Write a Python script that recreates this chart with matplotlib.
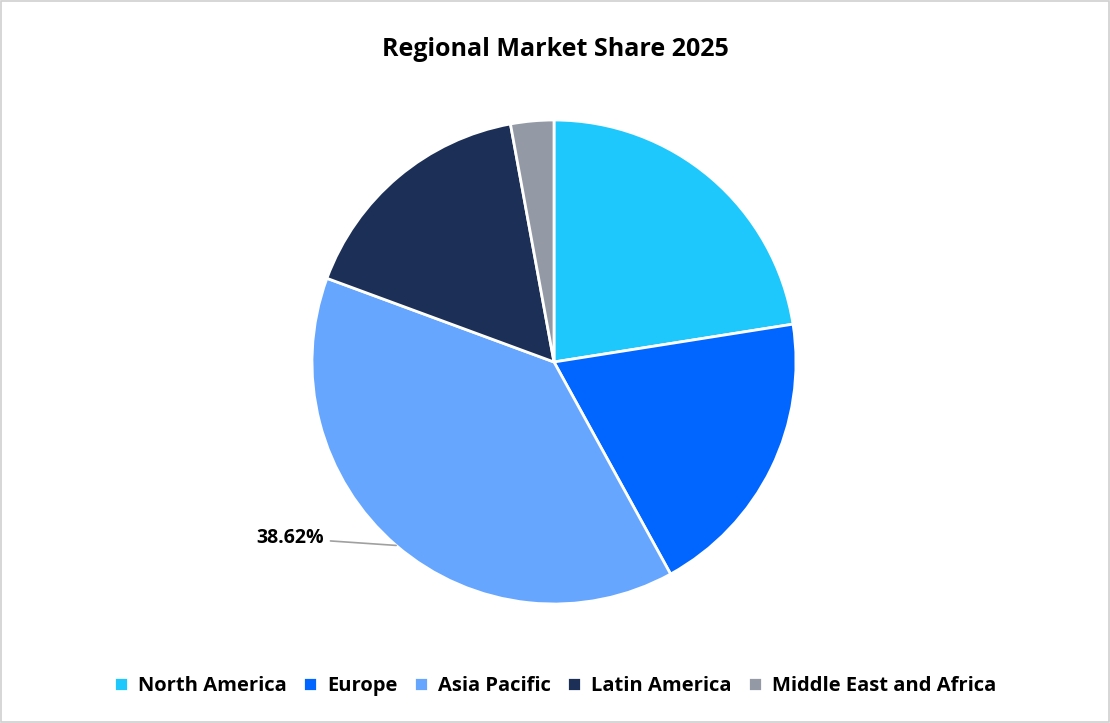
import numpy as np
import matplotlib.pyplot as plt
from matplotlib.patches import Rectangle

regions = ["North America", "Europe", "Asia Pacific", "Latin America", "Middle East and Africa"]
shares = [22.5, 19.5, 38.62, 16.5, 2.88]
colors = ["#1ec8fc", "#0066ff", "#66a6ff", "#1c2f56", "#9499a6"]

plt.rcParams['font.family'] = ['Open Sans', 'DejaVu Sans']

fig = plt.figure(figsize=(11.1, 7.23), dpi=100)
fig.patches.append(Rectangle((0.001, 0.001), 0.998, 0.998, transform=fig.transFigure,
                             fill=False, edgecolor="#d0d0d0", linewidth=1.2))

ax = fig.add_axes([(554 - 242) / 1110, (361 - 242) / 723, 484 / 1110, 484 / 723])
wedges, _ = ax.pie(shares, colors=colors, startangle=90, counterclock=False,
                   wedgeprops=dict(edgecolor="white", linewidth=2))
ax.set_xlim(-1, 1)
ax.set_ylim(-1, 1)

# label only Asia Pacific
i = 2
w = wedges[i]
mid = np.deg2rad((w.theta1 + w.theta2) / 2)
px, py = np.cos(mid), np.sin(mid)
ax.annotate(f"{shares[i]:.2f}%", xy=(px, py), xytext=(px - 0.30, py + 0.03),
            ha="right", va="center", fontsize=14, fontweight="bold",
            arrowprops=dict(arrowstyle="-", color="#a0a0a0", lw=1.2,
                            shrinkA=3, shrinkB=0),
            annotation_clip=False)

fig.text(0.5, 0.932, "Regional Market Share 2025", ha="center", va="center",
         fontsize=18, fontweight="bold")

fig.legend(wedges, regions, loc="center", bbox_to_anchor=(0.5, 0.051), ncol=5,
           frameon=False, handlelength=0.7, handleheight=0.7,
           handletextpad=0.5, columnspacing=0.8,
           prop=dict(weight="bold", size=14.5))

fig.savefig("out.png", dpi=100)
